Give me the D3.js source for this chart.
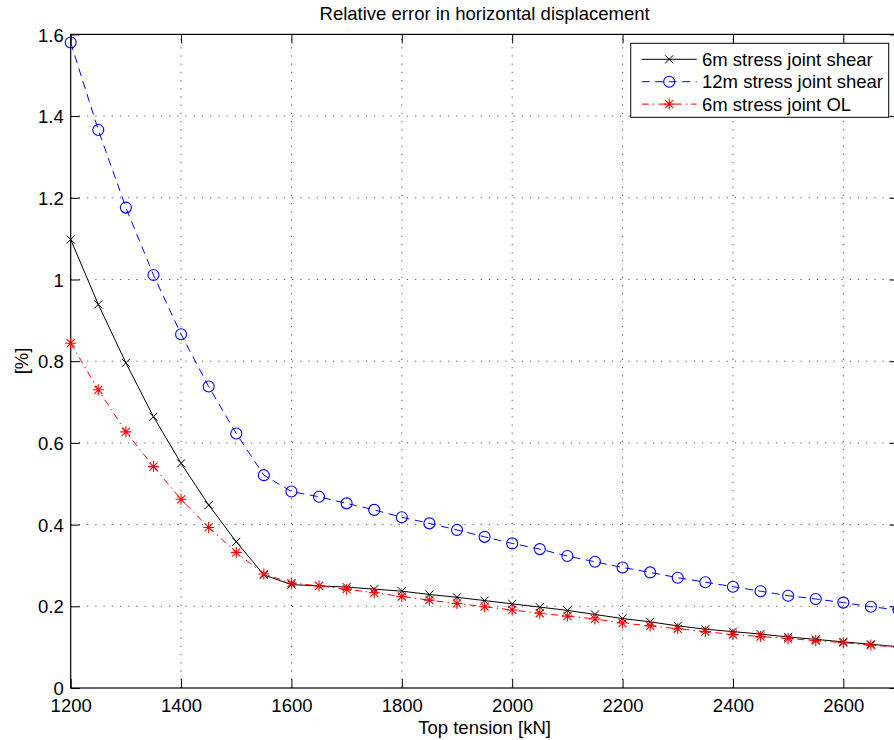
<html>
<head>
<script src="https://d3js.org/d3.v7.min.js"></script>
<style>
  body { margin: 0; background: #fff; }
  text { font-family: "Liberation Sans", Arial, sans-serif; }
</style>
</head>
<body>
<script>
// top tension [kN]
var tension = [1200, 1250, 1300, 1350, 1400, 1450, 1500, 1550, 1600, 1650, 1700,
  1750, 1800, 1850, 1900, 1950, 2000, 2050, 2100, 2150, 2200, 2250, 2300,
  2350, 2400, 2450, 2500, 2550, 2600, 2650, 2700];

// relative error [%]
var shear6 = [1.098, 0.939, 0.796, 0.664, 0.550, 0.448, 0.358, 0.277, 0.253, 0.250, 0.247,
  0.242, 0.237, 0.229, 0.222, 0.214, 0.206, 0.198, 0.190, 0.180, 0.170, 0.162, 0.152,
  0.144, 0.138, 0.132, 0.125, 0.119, 0.113, 0.107, 0.101];
var shear12 = [1.580, 1.366, 1.176, 1.011, 0.866, 0.738, 0.623, 0.521, 0.481, 0.468, 0.452,
  0.436, 0.418, 0.403, 0.387, 0.370, 0.354, 0.340, 0.323, 0.309, 0.295, 0.283, 0.270,
  0.259, 0.248, 0.237, 0.226, 0.218, 0.209, 0.199, 0.191];
var ol6 = [0.844, 0.730, 0.627, 0.542, 0.462, 0.393, 0.332, 0.279, 0.257, 0.250, 0.242,
  0.233, 0.224, 0.215, 0.207, 0.199, 0.191, 0.183, 0.176, 0.169, 0.159, 0.152, 0.145,
  0.138, 0.131, 0.126, 0.121, 0.116, 0.111, 0.105, 0.100];

var seriesNames = ["6m stress joint shear", "12m stress joint shear", "6m stress joint OL"];
var xTicks = [1200, 1400, 1600, 1800, 2000, 2200, 2400, 2600];
var yTicks = [0, 0.2, 0.4, 0.6, 0.8, 1, 1.2, 1.4, 1.6];

var W = 894, H = 740;
var margin = {top: 34.4, left: 70.7, right: 898.5, bottom: 688};

var svg = d3.select("body").append("svg")
  .attr("width", W).attr("height", H);
svg.append("rect").attr("width", W).attr("height", H).attr("fill", "#fff");

var x = d3.scaleLinear().domain([1200, 2700]).range([margin.left, margin.right]);
var y = d3.scaleLinear().domain([0, 1.6]).range([margin.bottom, margin.top]);

var fs = 18.5;

// grid
var grid = svg.append("g")
  .attr("stroke", "#555").attr("stroke-width", 1).attr("stroke-dasharray", "1.2,7");
xTicks.slice(1).forEach(function (t) {
  grid.append("line").attr("x1", x(t)).attr("x2", x(t))
    .attr("y1", margin.bottom).attr("y2", margin.top);
});
yTicks.slice(1, -1).forEach(function (t) {
  grid.append("line").attr("x1", margin.left).attr("x2", margin.right)
    .attr("y1", y(t)).attr("y2", y(t));
});

// axes
var axB = svg.append("g").attr("transform", "translate(0," + margin.bottom + ")")
  .call(d3.axisBottom(x).tickValues(xTicks).tickSize(-9).tickPadding(10.5).tickFormat(d3.format("d")));
var axT = svg.append("g").attr("transform", "translate(0," + margin.top + ")")
  .call(d3.axisTop(x).tickValues(xTicks).tickSize(-9).tickFormat(""));
var axL = svg.append("g").attr("transform", "translate(" + margin.left + ",0)")
  .call(d3.axisLeft(y).tickValues(yTicks).tickSize(-9).tickPadding(7).tickFormat(function (d) { return d3.format("~g")(d); }));
var axR = svg.append("g").attr("transform", "translate(" + margin.right + ",0)")
  .call(d3.axisRight(y).tickValues(yTicks).tickSize(-9).tickFormat(""));
[axB, axT, axL, axR].forEach(function (a) {
  a.select(".domain").remove();
  a.selectAll(".tick line").attr("stroke", "#000");
  a.selectAll("text").attr("font-size", fs).attr("fill", "#000")
    .attr("font-family", "Liberation Sans, Arial, sans-serif");
});
axL.selectAll("text").attr("dy", "0.36em");

svg.append("rect")
  .attr("x", margin.left).attr("y", margin.top)
  .attr("width", margin.right - margin.left).attr("height", margin.bottom - margin.top)
  .attr("fill", "none").attr("stroke", "#000").attr("stroke-width", 1.2);

// lines
var line = d3.line().x(function (d) { return x(d[0]); }).y(function (d) { return y(d[1]); });
var series = [
  {name: seriesNames[0], vals: shear6, color: "#000", dash: null, marker: "x"},
  {name: seriesNames[1], vals: shear12, color: "#0000ff", dash: "8,5.5", marker: "o"},
  {name: seriesNames[2], vals: ol6, color: "#ff0000", dash: "7,4,1.5,4", marker: "*"}
];

function drawMarker(g, type, cx, cy, color) {
  if (type === "x") {
    var s = 4;
    g.append("path").attr("d", "M" + (cx - s) + "," + (cy - s) + "L" + (cx + s) + "," + (cy + s) +
      "M" + (cx - s) + "," + (cy + s) + "L" + (cx + s) + "," + (cy - s))
      .attr("stroke", color).attr("stroke-width", 1);
  } else if (type === "o") {
    g.append("circle").attr("cx", cx).attr("cy", cy).attr("r", 5.5)
      .attr("fill", "none").attr("stroke", color).attr("stroke-width", 1.1);
  } else {
    var r = 5.5, d2 = 4;
    g.append("path").attr("d",
      "M" + (cx - r) + "," + cy + "L" + (cx + r) + "," + cy +
      "M" + cx + "," + (cy - r) + "L" + cx + "," + (cy + r) +
      "M" + (cx - d2) + "," + (cy - d2) + "L" + (cx + d2) + "," + (cy + d2) +
      "M" + (cx - d2) + "," + (cy + d2) + "L" + (cx + d2) + "," + (cy - d2))
      .attr("stroke", color).attr("stroke-width", 1.1);
  }
}

var plot = svg.append("g");
series.forEach(function (s) {
  var pts = tension.map(function (t, i) { return [t, s.vals[i]]; });
  plot.append("path").datum(pts).attr("d", line)
    .attr("fill", "none").attr("stroke", s.color).attr("stroke-width", 1)
    .attr("stroke-dasharray", s.dash);
  var mg = plot.append("g");
  pts.forEach(function (p) { drawMarker(mg, s.marker, x(p[0]), y(p[1]), s.color); });
});

// legend
var lg = svg.append("g");
lg.append("rect").attr("x", 630.7).attr("y", 43.3).attr("width", 258).attr("height", 74)
  .attr("fill", "#fff").attr("stroke", "#000").attr("stroke-width", 1);
series.forEach(function (s, i) {
  var ly = 59.3 + i * 22.4;
  lg.append("line").attr("x1", 641.7).attr("x2", 696.7).attr("y1", ly).attr("y2", ly)
    .attr("stroke", s.color).attr("stroke-width", 1).attr("stroke-dasharray", s.dash);
  drawMarker(lg, s.marker, 669.2, ly, s.color);
  lg.append("text").attr("x", 702).attr("y", ly).attr("dy", "0.36em")
    .attr("font-size", fs).attr("fill", "#000").text(s.name);
});

// title and labels
svg.append("text").attr("x", (margin.left + margin.right) / 2).attr("y", 20)
  .attr("text-anchor", "middle").attr("font-size", fs).text("Relative error in horizontal displacement");
svg.append("text").attr("x", (margin.left + margin.right) / 2).attr("y", 734)
  .attr("text-anchor", "middle").attr("font-size", fs).text("Top tension [kN]");
svg.append("text").attr("transform", "translate(28,361) rotate(-90)")
  .attr("text-anchor", "middle").attr("font-size", fs).text("[%]");
</script>
</body>
</html>
